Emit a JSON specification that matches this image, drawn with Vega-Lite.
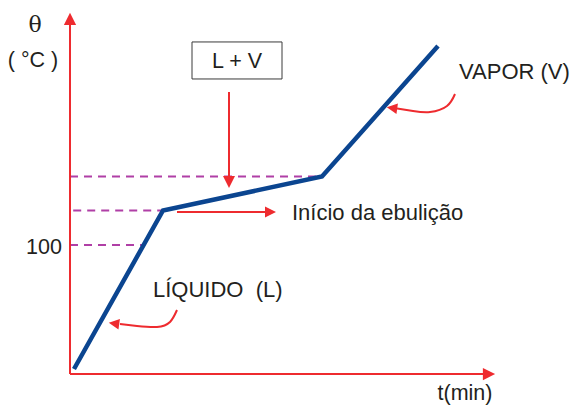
{
  "$schema": "https://vega.github.io/schema/vega-lite/v6.json",
  "width": 573,
  "height": 406,
  "padding": 0,
  "autosize": {"type": "fit", "contains": "padding"},
  "background": "white",
  "config": {"view": {"stroke": null}},
  "encoding": {
    "x": {"field": "t", "type": "quantitative", "scale": {"domain": [-1.75, 12.575], "nice": false, "zero": false}, "axis": null},
    "y": {"field": "v", "type": "quantitative", "scale": {"domain": [-25.29, 290.66], "nice": false, "zero": false}, "axis": null}
  },
  "layer": [
    {
      "data": {"values": [
        {"t": 0, "t2": 6.3, "v": 153.3},
        {"t": 0.08, "t2": 2.325, "v": 126.85},
        {"t": 0, "t2": 1.84, "v": 100}
      ]},
      "mark": {"type": "rule", "color": "#b03fa6", "strokeWidth": 2, "strokeDash": [8, 6]},
      "encoding": {"x2": {"field": "t2"}}
    },
    {
      "data": {"values": [
        {"t": 0, "v": -0.4, "t2": 0, "v2": 276},
        {"t": 0, "v": -0.4, "t2": 10.5, "v2": -0.4},
        {"t": 3.975, "v": 219.1, "t2": 3.975, "v2": 152.1},
        {"t": 2.675, "v": 125.7, "t2": 4.95, "v2": 125.7}
      ]},
      "mark": {"type": "rule", "color": "#ee2b2f", "strokeWidth": 2},
      "encoding": {"x2": {"field": "t2"}, "y2": {"field": "v2"}}
    },
    {
      "data": {"values": [
        {"c": "vapor", "i": 1, "t": 9.625, "v": 217.5},
        {"c": "vapor", "i": 2, "t": 9.425, "v": 208.2},
        {"c": "vapor", "i": 3, "t": 9.0, "v": 203.5},
        {"c": "vapor", "i": 4, "t": 8.575, "v": 204.3},
        {"c": "vapor", "i": 5, "t": 8.175, "v": 206.2},
        {"c": "liq", "i": 1, "t": 2.675, "v": 49.4},
        {"c": "liq", "i": 2, "t": 2.5, "v": 40.1},
        {"c": "liq", "i": 3, "t": 2.175, "v": 36.2},
        {"c": "liq", "i": 4, "t": 1.675, "v": 37.0},
        {"c": "liq", "i": 5, "t": 1.25, "v": 38.5}
      ]},
      "mark": {"type": "line", "color": "#ee2b2f", "strokeWidth": 2, "interpolate": "natural"},
      "encoding": {"detail": {"field": "c"}, "order": {"field": "i", "type": "quantitative"}}
    },
    {
      "data": {"values": [
        {"t": 0.1, "v": 3.5},
        {"t": 2.325, "v": 126.85},
        {"t": 6.3, "v": 153.3},
        {"t": 9.2, "v": 254.9}
      ]},
      "mark": {"type": "line", "color": "#0b4590", "strokeWidth": 4.5, "strokeJoin": "miter"},
      "encoding": {}
    },
    {
      "data": {"values": [{"t": 0, "v": 275.9}]},
      "mark": {"type": "point", "shape": "M0,-1L1,1L-1,1Z", "filled": true, "opacity": 1, "color": "#ee2b2f", "strokeWidth": 0, "size": 150, "angle": 0}
    },
    {
      "data": {"values": [{"t": 10.475, "v": -0.4}]},
      "mark": {"type": "point", "shape": "M0,-1L1,1L-1,1Z", "filled": true, "opacity": 1, "color": "#ee2b2f", "strokeWidth": 0, "size": 150, "angle": 90}
    },
    {
      "data": {"values": [{"t": 5.0125, "v": 125.7}]},
      "mark": {"type": "point", "shape": "M0,-1L1,1L-1,1Z", "filled": true, "opacity": 1, "color": "#ee2b2f", "strokeWidth": 0, "size": 121, "angle": 90}
    },
    {
      "data": {"values": [{"t": 3.975, "v": 149.0}]},
      "mark": {"type": "point", "shape": "M0,-1L1,1L-1,1Z", "filled": true, "opacity": 1, "color": "#ee2b2f", "strokeWidth": 0, "size": 144, "angle": 180}
    },
    {
      "data": {"values": [{"t": 8.05, "v": 206.6}, {"t": 1.1, "v": 38.9}]},
      "mark": {"type": "point", "shape": "M0,-1L1,1L-1,1Z", "filled": true, "opacity": 1, "color": "#ee2b2f", "strokeWidth": 0, "size": 110, "angle": 278}
    },
    {
      "data": {"values": [{"t": 3.05, "v": 258.0, "t2": 5.3, "v2": 229.2}]},
      "mark": {"type": "rect", "fill": "white", "stroke": "#3a3a3a", "strokeWidth": 1},
      "encoding": {"x2": {"field": "t2"}, "y2": {"field": "v2"}}
    },
    {
      "data": {"values": [{"t": -0.87, "v": 265.8, "label": "θ"}]},
      "mark": {"type": "text", "align": "center", "baseline": "alphabetic", "font": "DejaVu Serif", "fontSize": 22, "color": "#231f20"},
      "encoding": {"text": {"field": "label"}}
    },
    {
      "data": {"values": [
        {"t": -0.925, "v": 238.9, "label": "( °C )"},
        {"t": -0.65, "v": 92.8, "label": "100"},
        {"t": 4.175, "v": 237.5, "label": "L + V"},
        {"t": 9.875, "v": -20.6, "label": "t(min)"}
      ]},
      "mark": {"type": "text", "align": "center", "baseline": "alphabetic", "font": "Liberation Sans", "fontSize": 21.5, "color": "#231f20"},
      "encoding": {"text": {"field": "label"}}
    },
    {
      "data": {"values": [
        {"t": 5.55, "v": 119.5, "label": "Início da ebulição"},
        {"t": 9.725, "v": 228.9, "label": "VAPOR (V)"},
        {"t": 2.075, "v": 59.8, "label": "LÍQUIDO\u00a0 (L)"}
      ]},
      "mark": {"type": "text", "align": "left", "baseline": "alphabetic", "font": "Liberation Sans", "fontSize": 22, "color": "#231f20"},
      "encoding": {"text": {"field": "label"}}
    }
  ]
}
